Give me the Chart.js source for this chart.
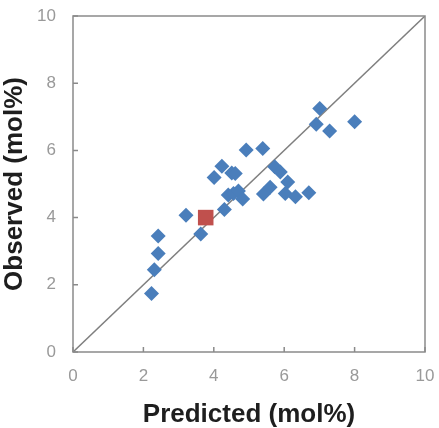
<!DOCTYPE html>
<html>
<head>
<meta charset="utf-8">
<script src="https://cdn.jsdelivr.net/npm/chart.js@4"></script>
<style>
  html, body { margin: 0; padding: 0; background: #fff; }
  #wrap { width: 439px; height: 428px; }
</style>
</head>
<body>
<div id="wrap"><canvas id="chart" width="439" height="428"></canvas></div>
<script>
// DATA
const predicted = [2.23, 2.31, 2.42, 2.42, 3.21, 3.63, 4.01, 4.23, 4.30, 4.41, 4.51, 4.61, 4.56, 4.70, 4.82,
    4.92, 5.39, 5.41, 5.60, 5.73, 5.89, 6.10, 6.03, 6.32, 6.70, 6.91, 7.01, 7.29, 8.00];
const observed = [1.74, 2.45, 2.93, 3.45, 4.07, 3.51, 5.19, 5.53, 4.24, 4.67, 5.33, 5.31, 4.72, 4.79, 4.55,
    6.01, 6.06, 4.70, 4.90, 5.51, 5.36, 5.06, 4.72, 4.62, 4.74, 6.78, 7.25, 6.58, 6.85];
const highlightX = [3.77];
const highlightY = [4.00];
const lineX = [0, 10];
const lineY = [0, 10];
const tickValues = [0, 2, 4, 6, 8, 10];

const toPoints = (xs, ys) => xs.map((x, i) => ({ x: x, y: ys[i] }));

// frame + inward tick marks
const framePlugin = {
    id: "frame",
    afterDraw(chart) {
        const ctx = chart.ctx;
        const a = chart.chartArea;
        const xs = chart.scales.x, ys = chart.scales.y;
        ctx.save();
        ctx.strokeStyle = "#8a8a8a";
        ctx.lineWidth = 1.5;
        ctx.strokeRect(a.left, a.top, a.right - a.left, a.bottom - a.top);
        ctx.beginPath();
        tickValues.forEach(v => {
            const px = xs.getPixelForValue(v);
            ctx.moveTo(px, a.bottom);
            ctx.lineTo(px, a.bottom - 5);
            const py = ys.getPixelForValue(v);
            ctx.moveTo(a.left, py);
            ctx.lineTo(a.left + 5, py);
        });
        ctx.stroke();
        ctx.restore();
    }
};

// no extra room for label overhang, layout padding decides the plot box
function noOverhang(scale) {
    scale.paddingTop = 0;
    scale.paddingBottom = 0;
    scale.paddingLeft = 0;
    scale.paddingRight = 0;
}

const chart = new Chart(document.getElementById("chart"), {
    type: "scatter",
    data: {
        datasets: [
            {
                label: "Highlight",
                data: toPoints(highlightX, highlightY),
                pointStyle: "rect",
                pointRadius: 11,
                pointHoverRadius: 11,
                backgroundColor: "#c0504d",
                borderColor: "#c0504d",
                borderWidth: 0,
                order: 0
            },
            {
                label: "Samples",
                data: toPoints(predicted, observed),
                pointStyle: "rectRot",
                pointRadius: 7.5,
                pointHoverRadius: 7.5,
                backgroundColor: "#4a7ebb",
                borderColor: "#4a7ebb",
                borderWidth: 0,
                order: 1
            },
            {
                label: "1:1",
                data: toPoints(lineX, lineY),
                showLine: true,
                pointRadius: 0,
                borderColor: "#7f7f7f",
                borderWidth: 1.5,
                order: 2
            }
        ]
    },
    options: {
        responsive: false,
        animation: false,
        layout: { padding: { top: 16, right: 14, left: 0, bottom: 0 } },
        plugins: {
            legend: { display: false },
            tooltip: { enabled: false }
        },
        scales: {
            x: {
                type: "linear",
                min: 0,
                max: 10,
                ticks: {
                    stepSize: 2,
                    padding: 14,
                    color: "#999999",
                    font: { family: "Liberation Sans, Arial", size: 17 }
                },
                grid: { display: false, drawTicks: false },
                border: { display: false },
                title: {
                    display: true,
                    text: "Predicted (mol%)",
                    color: "#1e1e1e",
                    padding: { top: 0, bottom: 0 },
                    font: { family: "Liberation Sans, Arial", size: 26, weight: "bold", lineHeight: 1 }
                },
                afterFit(scale) { scale.height = 76; noOverhang(scale); }
            },
            y: {
                type: "linear",
                min: 0,
                max: 10,
                ticks: {
                    stepSize: 2,
                    padding: 17,
                    color: "#999999",
                    font: { family: "Liberation Sans, Arial", size: 17 }
                },
                grid: { display: false, drawTicks: false },
                border: { display: false },
                title: {
                    display: true,
                    text: "Observed (mol%)",
                    color: "#1e1e1e",
                    padding: { top: 2, bottom: 0 },
                    font: { family: "Liberation Sans, Arial", size: 26, weight: "bold", lineHeight: 1 }
                },
                afterFit(scale) { scale.width = 73; noOverhang(scale); }
            }
        }
    },
    plugins: [framePlugin]
});
</script>
</body>
</html>
